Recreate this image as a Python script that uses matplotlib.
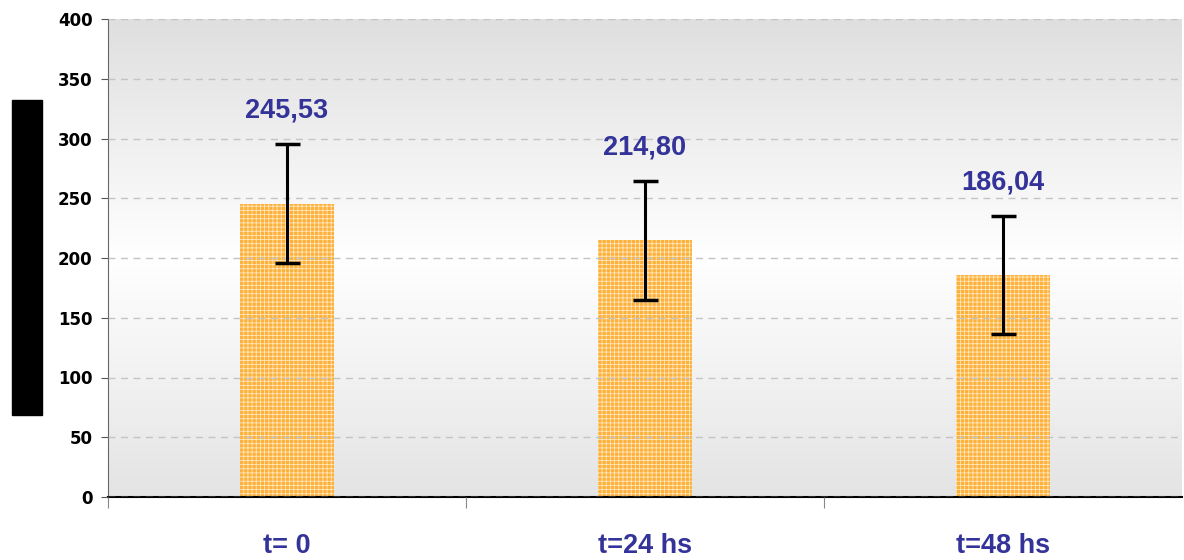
import numpy as np
import matplotlib.pyplot as plt
from matplotlib.colors import LinearSegmentedColormap
from matplotlib.patches import Rectangle

# data
categories = ["t= 0", "t=24 hs", "t=48 hs"]
values = [245.53, 214.80, 186.04]
errors = [50, 50, 49.5]
value_labels = ["245,53", "214,80", "186,04"]

label_font = ["Liberation Sans", "DejaVu Sans"]
blue = "#333399"

plt.rcParams["hatch.linewidth"] = 0.6

fig = plt.figure(figsize=(11.84, 5.6), dpi=100)
ax = fig.add_axes([108 / 1184, 63 / 560, 1074 / 1184, 478 / 560])

x = np.arange(len(categories))

# background gradient: gray top, white middle, gray bottom
cmap = LinearSegmentedColormap.from_list(
    "bg", [(0.0, "#e4e4e4"), (0.5, "#ffffff"), (1.0, "#dfdfdf")])
grad = np.linspace(0, 1, 256).reshape(-1, 1)
ax.imshow(grad, aspect="auto", cmap=cmap, origin="lower",
          extent=[-0.5, 2.5, 0, 400], zorder=0)

ax.bar(x, values, width=0.26, color="#fdb13a", edgecolor="#ffe6bb",
       hatch="++++", linewidth=0, zorder=2)
ax.errorbar(x, values, yerr=errors, fmt="none", ecolor="black",
            elinewidth=2.2, capsize=9, capthick=2.5, zorder=3)

for xi, v, e, lab in zip(x, values, errors, value_labels):
    ax.text(xi, v + e + 17, lab, ha="center", va="bottom", color=blue,
            fontsize=19.5, fontweight="heavy", family=label_font, zorder=4)

ax.set_xlim(-0.5, 2.5)
ax.set_ylim(0, 400)
ax.set_yticks(np.arange(0, 401, 50))
ax.yaxis.grid(True, linestyle=(0, (5, 4)), color="#c4c4c4", linewidth=1)
ax.set_axisbelow(False)
for t in ax.get_yticklabels():
    t.set_fontweight("bold")
    t.set_fontsize(12)
    t.set_family(["DejaVu Sans"])
ax.tick_params(axis="y", length=5, pad=6, color="#555555")

ax.set_xticks([-0.5, 0.5, 1.5], minor=False)
ax.set_xticklabels([])
ax.tick_params(axis="x", length=8, color="#888888", direction="out")
for xi, c in zip(x, categories):
    ax.text(xi, -41, c, ha="center", va="center", color=blue,
            fontsize=19.5, fontweight="heavy", family=label_font)

for s in ["top", "right"]:
    ax.spines[s].set_visible(False)
ax.spines["left"].set_color("#666666")
ax.spines["bottom"].set_color("black")
ax.spines["bottom"].set_linewidth(1.5)

# redacted y label block
fig.patches.append(Rectangle((12 / 1184, 1 - 415 / 560), 30 / 1184, 315 / 560,
                             transform=fig.transFigure, color="black"))

fig.savefig("out.png", dpi=100)
